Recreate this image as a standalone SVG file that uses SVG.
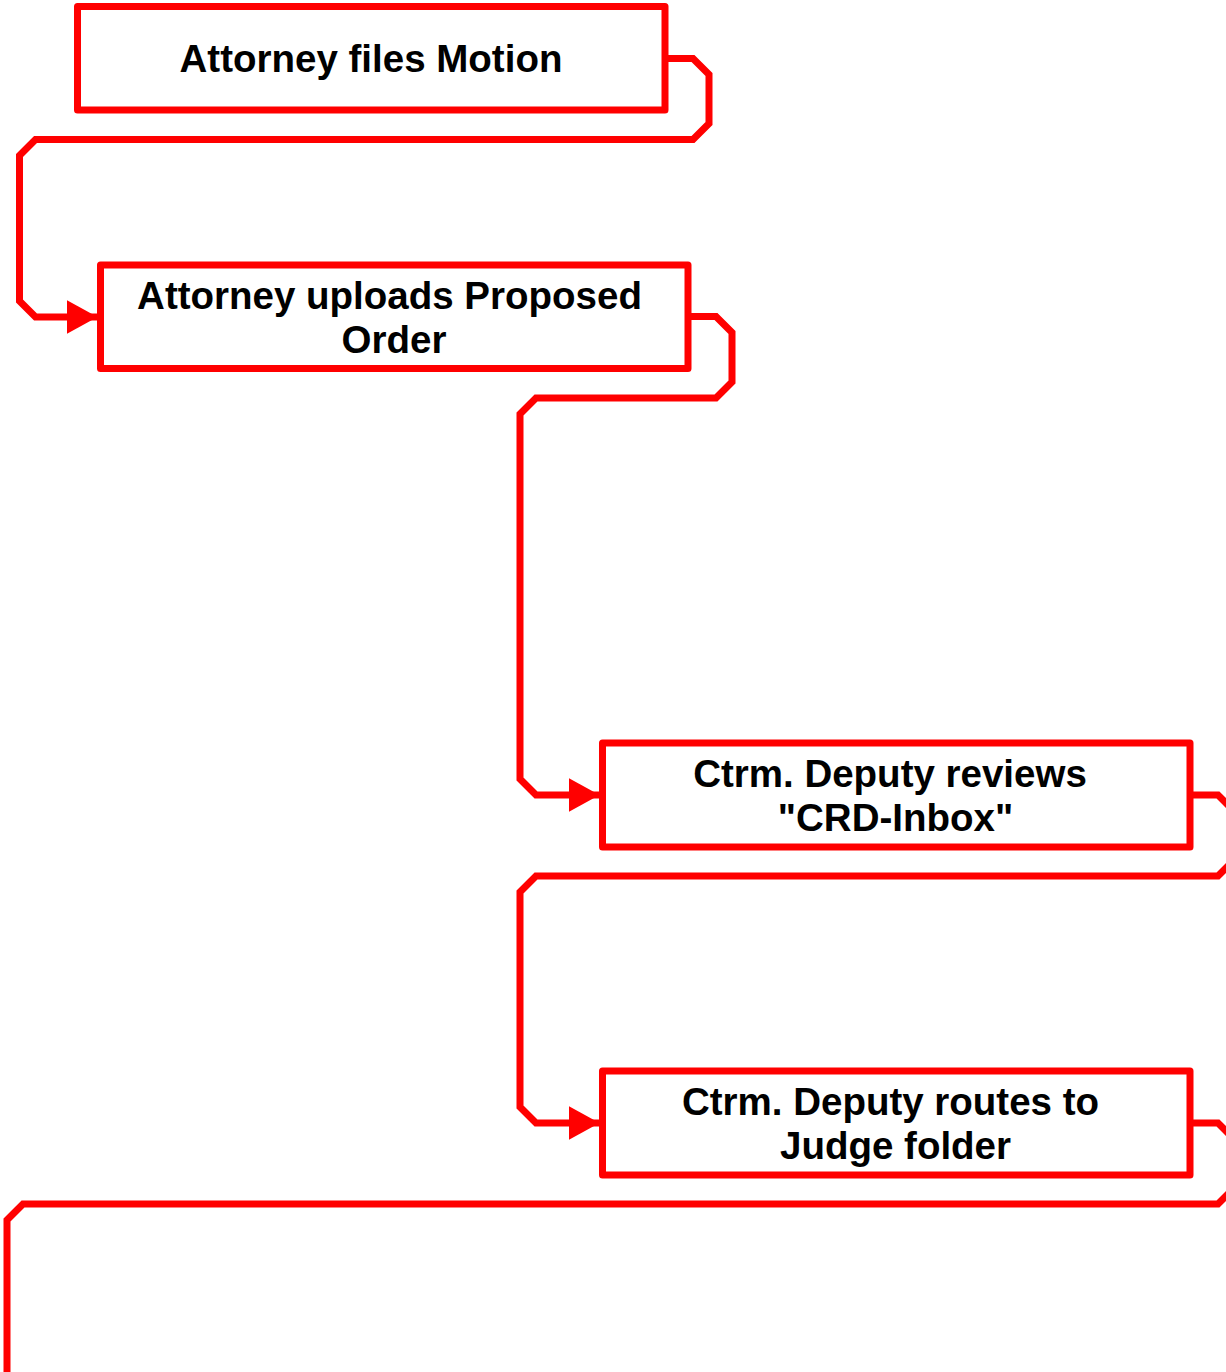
<svg xmlns="http://www.w3.org/2000/svg" width="1226" height="1372" viewBox="0 0 1226 1372">
<style>
.box{fill:#fff;stroke:#ff0000;stroke-width:7;stroke-linejoin:round}
.lbl{font-family:"Liberation Sans",Arial,sans-serif;font-weight:bold;font-size:38.5px;fill:#000;text-anchor:middle}
.conn{fill:none;stroke:#ff0000;stroke-width:7;stroke-linejoin:miter}
</style>
<defs>
<marker id="arr" viewBox="0 0 31 34" refX="31" refY="17" markerWidth="31" markerHeight="34" markerUnits="userSpaceOnUse" orient="auto">
<path d="M0,0 L31,17 L0,34 z" fill="#ff0000"/>
</marker>
</defs>
<g id="connectors">
<path class="conn" d="M665,58.5 H693 L709,74.5 V123.5 L693,139.5 H35.5 L19.5,155.5 V301 L35.5,317 H97.5" marker-end="url(#arr)"/>
<path class="conn" d="M688,316.5 H716 L732,332.5 V382 L716,398 H536 L520,414 V779 L536,795 H599.5" marker-end="url(#arr)"/>
<path class="conn" d="M1190,795 H1218 L1234,811 V860 L1218,876 H536 L520,892 V1107 L536,1123 H599.5" marker-end="url(#arr)"/>
<path class="conn" d="M1190,1123 H1218 L1234,1139 V1188 L1218,1204 H23 L7,1220 V1380"/>
</g>
<g id="node1">
<rect class="box" x="77.5" y="6.5" width="587.5" height="103.5"/>
<text class="lbl" x="371" y="72">Attorney files Motion</text>
</g>
<g id="node2">
<rect class="box" x="100.5" y="265" width="587.5" height="103.5"/>
<text class="lbl" x="389.5" y="309">Attorney uploads Proposed</text>
<text class="lbl" x="394" y="353">Order</text>
</g>
<g id="node3">
<rect class="box" x="602.5" y="743" width="587.5" height="104"/>
<text class="lbl" x="890" y="787">Ctrm. Deputy reviews</text>
<text class="lbl" x="895.5" y="831">"CRD-Inbox"</text>
</g>
<g id="node4">
<rect class="box" x="602.5" y="1071" width="587.5" height="104"/>
<text class="lbl" x="890.5" y="1115">Ctrm. Deputy routes to</text>
<text class="lbl" x="895.5" y="1159">Judge folder</text>
</g>
</svg>
